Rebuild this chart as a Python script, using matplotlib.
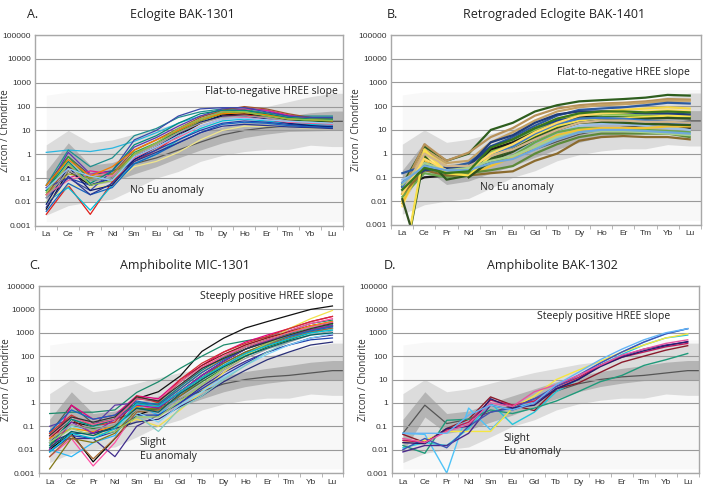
import numpy as np
import matplotlib
matplotlib.use("Agg")
import matplotlib.pyplot as plt
from matplotlib.ticker import FixedLocator, FuncFormatter

plt.rcParams['font.family'] = ['Open Sans', 'DejaVu Sans']

ree = ['La', 'Ce', 'Pr', 'Nd', 'Sm', 'Eu', 'Gd', 'Tb', 'Dy', 'Ho', 'Er', 'Tm', 'Yb', 'Lu']
nan = np.nan

# reference field (grey envelope) shared by all panels
faint_hi = [300, 400, 400, 400, 400, 400, 450, 500, 500, 500, 500, 500, 500, 500]
faint_lo = [0.0015, 0.0015, 0.0015, 0.0015, 0.0015, 0.0015, 0.0015, 0.0015, 0.0015, 0.0015, 0.0015, 0.0015, 0.0015, 0.0015]
outer_hi = [2.5, 10, 3, 4, 7, 12, 20, 30, 45, 60, 100, 160, 260, 360]
outer_lo = [0.0028, 0.007, 0.01, 0.013, 0.035, 0.1, 0.19, 0.5, 0.9, 1.3, 1.6, 1.6, 2.4, 2.1]
inner_hi = [0.2, 3, 0.35, 0.45, 1, 2, 4, 8, 14, 22, 30, 40, 55, 65]
inner_lo = [0.008, 0.25, 0.05, 0.07, 0.15, 0.3, 0.7, 1.5, 3, 5, 7, 9, 9.5, 10]
median = [0.05, 0.8, 0.13, 0.2, 0.4, 0.7, 1.5, 3.2, 6.5, 10, 13, 15, 19, 24]

# A. Eclogite BAK-1301
a_lines = [
    [1.2, 1.5, 1.3, 1.8, 3.5, 8, 20, 40, 60, 55, 45, 35, 35, 35],
    [0.05, 1.5, 0.3, 0.7, 6, 12, 35, 60, 80, 75, 55, 40, 40, 40],
    [0.003, 0.05, 0.003, 0.07, 0.5, 1.5, 6, 20, 40, 45, 35, 25, 22, 20],
    [0.01, 0.04, 0.0045, 0.05, 0.4, 1, 4, 12, 25, 30, 25, 20, 18, 17],
    [0.03, 1.2, 0.15, 0.2, 2, 5, 15, 40, 80, 90, 70, 40, 35, 30],
    [0.04, 0.1, 0.2, 0.15, 1, 3, 10, 30, 60, 80, 70, 45, 30, 28],
    [0.02, 0.3, 0.1, 0.15, 1.5, 4, 12, 35, 70, 100, 80, 50, 35, 30],
    [0.005, 0.2, 0.05, 0.1, 0.8, 2, 6, 20, 45, 50, 40, 28, 25, 22],
    [0.03, 0.8, 0.08, 0.1, 1.2, 3, 9, 25, 50, 60, 45, 30, 25, 25],
    [0.015, 0.1, 0.05, 0.1, 0.6, 1.5, 4, 10, 20, 25, 22, 18, 15, 15],
    [0.01, 0.05, 0.04, 0.05, 0.3, 0.5, 1.2, 4, 10, 15, 15, 14, 12, 12],
    [0.02, 0.15, 0.1, 0.15, 1, 2.5, 8, 25, 55, 70, 50, 35, 30, 28],
    [0.04, 0.1, 0.03, 0.2, 4, 10, 40, 80, 90, 90, 60, 40, 35, 35],
    [0.008, 0.3, 0.03, 0.05, 0.6, 2, 7, 22, 40, 40, 30, 20, 16, 14],
    [0.02, 0.08, 0.15, 0.12, 0.7, 2, 5, 15, 30, 35, 28, 22, 20, 18],
    [0.03, 0.5, 0.06, 0.2, 2.5, 6, 20, 50, 70, 70, 50, 35, 30, 30],
    [0.004, 0.06, 0.02, 0.04, 0.4, 1, 3, 8, 18, 22, 20, 16, 14, 13],
    [0.05, 0.6, 0.12, 0.3, 1.5, 4, 10, 30, 50, 55, 45, 30, 28, 25],
    [0.015, 0.2, 0.08, 0.1, 0.9, 2.5, 8, 20, 35, 40, 35, 25, 22, 20],
    [0.025, 0.4, 0.05, 0.08, 1, 3, 12, 30, 60, 60, 40, 30, 28, 26],
    [0.006, 0.12, 0.02, 0.06, 0.5, 1.2, 3, 8, 15, 18, 16, 14, 13, 12],
    [0.035, 0.25, 0.12, 0.08, 0.8, 2, 6, 15, 30, 32, 28, 24, 22, 20],
]
a_colors = ['#29b6e0', '#1f8f8f', '#e0201b', '#00bcd4', '#5e35b1', '#e91e8c', '#a0522d', '#111111',
            '#2e9e3e', '#1e40af', '#f0e68c', '#9e9d24', '#3949ab', '#0d1b6e', '#f06292', '#00897b',
            '#1565c0', '#f57c00', '#9e9e9e', '#8bc34a', '#283593', '#90caf9']

# B. Retrograded Eclogite BAK-1401
b_lines = [
    [0.05, 2, 0.5, 1, 10, 20, 60, 110, 160, 180, 200, 230, 300, 280],
    [0.03, 2.5, 0.5, 1.1, 5, 12, 40, 80, 110, 130, 140, 160, 200, 190],
    [0.02, 1.5, 0.4, 0.5, 3, 8, 25, 60, 90, 110, 120, 140, 170, 170],
    [0.15, 0.3, 0.25, 0.4, 2, 5, 15, 40, 70, 80, 90, 110, 140, 130],
    [0.01, 1.2, 0.3, 0.3, 1.5, 4, 12, 30, 50, 60, 70, 80, 90, 80],
    [0.006, 0.8, 0.2, 0.25, 1, 3, 8, 20, 35, 45, 50, 60, 70, 60],
    [0.04, 0.5, 0.15, 0.2, 1.2, 3, 10, 25, 40, 45, 45, 40, 40, 35],
    [0.05, 0.2, 0.2, 0.3, 2, 4, 12, 25, 35, 35, 30, 25, 20, 18],
    [0.04, 0.1, 0.12, 0.2, 1.5, 3, 8, 20, 35, 35, 30, 22, 18, 12],
    [0.02, 0.3, 0.2, 0.15, 0.8, 2, 6, 15, 30, 35, 35, 35, 38, 36],
    [0.03, 0.25, 0.15, 0.15, 0.6, 1.5, 5, 12, 25, 28, 25, 20, 18, 16],
    [0.08, 0.2, 0.2, 0.2, 0.5, 1.2, 3, 8, 15, 18, 18, 15, 12, 10],
    [0.015, 0.15, 0.1, 0.15, 0.4, 0.8, 3, 8, 12, 12, 11, 10, 9, 8],
    [0.008, 0.5, 0.15, 0.12, 0.3, 0.7, 2, 6, 10, 12, 12, 12, 14, 14],
    [0.02, 0.2, 0.12, 0.12, 0.15, 0.18, 0.5, 1, 3.5, 5, 5.5, 5, 5, 4],
    [0.03, 0.3, 0.15, 0.15, 0.2, 0.3, 1, 2.5, 5, 7, 7, 7, 7, 5],
    [1e-5, 0.8, 0.08, 0.12, 0.6, 1.5, 5, 12, 20, 22, 20, 18, 17, 16],
    [1e-5, 1.5, 0.15, 0.12, 0.8, 2, 6, 15, 25, 30, 32, 35, 40, 38],
    [0.012, 1e-5, nan, 0.1, 0.5, 1.2, 4, 10, 20, 25, 28, 30, 32, 30],
    [0.06, 0.2, 0.25, 0.3, 3, 6, 20, 45, 60, 60, 55, 50, 50, 45],
    [0.04, 0.4, 0.2, 0.2, 1, 2, 7, 18, 30, 32, 30, 25, 22, 20],
    [0.025, 1, 0.3, 0.3, 0.8, 1.5, 4, 10, 20, 25, 25, 22, 22, 20],
    [0.05, 0.4, 0.2, 0.25, 0.5, 0.8, 2, 5, 8, 9, 9, 8, 7, 6],
    [0.02, 0.6, 0.2, 0.2, 1, 2.5, 8, 20, 40, 50, 55, 60, 65, 60],
    [0.06, 0.3, 0.2, 0.2, 0.4, 0.6, 1.5, 4, 8, 10, 10, 9, 8, 7],
    [0.03, 0.25, 0.15, 0.18, 1.8, 4, 12, 30, 50, 60, 60, 55, 60, 55],
]
b_colors = ['#2e5e1e', '#b8925a', '#c4a265', '#2c5aa0', '#f6d743', '#ffe680', '#8bc34a', '#1a3f8f',
            '#1a1a1a', '#3b7a2a', '#4a7fc1', '#9bbfe6', '#6aa84f', '#f1c232', '#8b6b2e', '#5d8a3a',
            '#2f5a1f', '#f9e04b', '#2f4f1f', '#203c7a', '#3d78c4', '#d2b48c', '#a8d08d', '#ffd966',
            '#6fa8dc', '#38761d']

# C. Amphibolite MIC-1301
c_lines = [
    [0.02, 0.15, 0.1, 0.2, 1.5, 3, 14, 160, 590, 1600, 3000, 5500, 10000, 14000],
    [0.35, 0.4, 0.4, 0.5, 2.8, 8, 30, 100, 300, 450, 650, 1200, 2500, 3500],
    [0.01, 0.05, 0.003, 0.03, 0.3, 0.6, 3, 15, 60, 200, 500, 1000, 2000, 2500],
    [0.01, 0.8, 0.2, 0.3, 2, 1.5, 10, 40, 150, 400, 800, 1500, 3000, 5000],
    [0.005, 0.03, 0.002, 0.02, 0.5, 0.8, 5, 30, 100, 300, 600, 1200, 2500, 4000],
    [0.1, 0.2, 0.1, 0.8, 1, 0.7, 3, 15, 50, 150, 300, 700, 1200, 2000],
    [0.02, 0.03, 0.03, 0.005, 0.1, 0.3, 1, 5, 20, 60, 150, 300, 600, 800],
    [0.01, 0.005, 0.02, 0.04, 0.8, 0.3, 2, 10, 40, 120, 300, 600, 1200, 1800],
    [0.03, 0.1, 0.05, 0.08, 0.2, 0.1, 0.5, 3, 20, 100, 400, 1500, 4000, 9000],
    [0.05, 0.3, 0.1, 0.15, 2, 1, 10, 50, 150, 350, 700, 1500, 3000, 5000],
    [0.03, 0.2, 0.05, 0.1, 1.5, 1.2, 8, 40, 120, 300, 600, 1100, 2000, 3000],
    [0.015, 0.1, 0.08, 0.1, 0.6, 0.5, 2, 8, 30, 100, 250, 500, 1000, 1500],
    [0.008, 0.04, 0.03, 0.06, 0.3, 0.3, 1, 4, 15, 50, 150, 300, 500, 600],
    [0.02, 0.05, 0.05, 0.08, 0.15, 0.2, 0.7, 2, 8, 25, 70, 150, 300, 400],
    [0.02, 0.1, 0.06, 0.1, 0.4, 0.15, 0.8, 3, 12, 40, 120, 300, 600, 900],
    [0.04, 0.2, 0.1, 0.1, 0.3, 0.06, 0.6, 2, 10, 40, 150, 400, 900, 1500],
    [0.03, 0.08, 0.06, 0.1, 0.7, 0.8, 4, 20, 80, 250, 500, 1000, 2000, 3000],
    [0.0015, 0.03, 0.02, 0.05, 0.5, 0.6, 3, 12, 50, 150, 350, 700, 1300, 2000],
    [0.005, 0.04, 0.004, 0.03, 0.4, 0.5, 2, 10, 40, 130, 300, 600, 1100, 1600],
    [0.015, 0.2, 0.1, 0.2, 1, 0.9, 5, 25, 90, 250, 500, 900, 1600, 2200],
    [0.01, 0.15, 0.05, 0.2, 0.8, 0.6, 3, 15, 60, 200, 450, 800, 1400, 2000],
    [0.025, 0.12, 0.07, 0.12, 0.5, 0.4, 1.5, 6, 25, 80, 200, 400, 800, 1200],
    [0.06, 0.5, 0.2, 0.3, 1.2, 0.8, 4, 20, 70, 200, 400, 700, 1200, 1800],
    [0.02, 0.08, 0.04, 0.06, 0.25, 0.25, 1.2, 6, 30, 120, 350, 800, 1600, 2500],
    [0.035, 0.25, 0.12, 0.2, 1.5, 1.3, 8, 35, 100, 250, 500, 1000, 1800, 2800],
    [0.012, 0.06, 0.04, 0.1, 0.6, 0.4, 2.5, 10, 35, 100, 220, 450, 800, 1000],
    [0.008, 0.05, 0.03, 0.08, 0.9, 0.7, 3, 12, 40, 130, 280, 550, 1000, 1300],
    [0.04, 0.25, 0.15, 0.25, 1.8, 1.2, 6, 30, 80, 200, 400, 800, 1500, 2500],
]
c_colors = ['#111111', '#1b8a6b', '#000000', '#e6007e', '#ff4fa3', '#5b3ea6', '#3f2c8c', '#29b6f6',
            '#f2e14c', '#d32f2f', '#8b1a1a', '#2e7d32', '#1e40af', '#2a2f7a', '#81d4fa', '#80cbc4',
            '#ff8f00', '#827717', '#a1662f', '#00897b', '#8e24aa', '#9e9e9e', '#1565c0', '#9ccc65',
            '#f06292', '#006064', '#00bcd4', '#333333']

# D. Amphibolite BAK-1302
d_lines = [
    [0.05, 0.045, 0.001, 0.6, 0.07, 0.6, 1, 5, 15, 50, 150, 400, 900, 1500],
    [0.012, 0.02, 0.015, 0.08, 1.0, 0.12, 0.4, 3, 10, 40, 120, 300, 600, 800],
    [0.045, 0.02, 0.08, 0.2, 1.8, 0.8, 0.47, 4, 7, 20, 55, 100, 180, 280],
    [0.015, 0.007, 0.18, 0.2, 0.5, 0.35, 0.6, 1.2, 3, 8, 15, 40, 70, 130],
    [0.02, 0.025, 0.06, 0.06, 0.06, 0.6, 2, 10, 25, 60, 150, 300, 600, 900],
    [0.008, 0.015, 0.015, 0.05, 0.8, 0.5, 1, 4, 10, 40, 100, 200, 300, 400],
    [0.025, 0.02, 0.07, 0.15, 1.3, 0.8, 1.2, 5, 12, 40, 90, 150, 250, 350],
    [0.01, 0.03, 0.012, 0.1, 0.4, 0.6, 1.5, 5, 15, 50, 150, 400, 900, 1500],
    [0.02, 0.018, 0.08, 0.1, 1.5, 0.6, 0.8, 4, 10, 35, 90, 170, 280, 420],
    [0.03, 0.02, 0.06, 0.12, 1.0, 0.7, 3, 6, 15, 40, 110, 200, 350, 500],
    [0.05, 0.05, 0.05, 0.3, 0.8, 0.5, 1, 6, 20, 70, 200, 500, 1000, 1500],
]
d_colors = ['#4fc3f7', '#26c6da', '#8b1a2b', '#1f9a7a', '#f5e642', '#4b2a8c', '#c2185b', '#3f51b5',
            '#2b1b6e', '#e754a0', '#64b5f6']

panels = [
    ('A.', 'Eclogite BAK-1301', a_lines, a_colors, 0.9,
     [('Flat-to-negative HREE slope', 7.2, 450), ('No Eu anomaly', 3.8, 0.03)]),
    ('B.', 'Retrograded Eclogite BAK-1401', b_lines, b_colors, 1.6,
     [('Flat-to-negative HREE slope', 7.0, 2700), ('No Eu anomaly', 3.5, 0.036)]),
    ('C.', 'Amphibolite MIC-1301', c_lines, c_colors, 0.9,
     [('Steeply positive HREE slope', 6.9, 34000), ('Slight\nEu anomaly', 4.15, 0.01)]),
    ('D.', 'Amphibolite BAK-1302', d_lines, d_colors, 1.0,
     [('Steeply positive HREE slope', 6.1, 4800), ('Slight\nEu anomaly', 4.6, 0.016)]),
]
rects = [
    [0.050, 0.543, 0.437, 0.386],
    [0.555, 0.545, 0.439, 0.384],
    [0.055, 0.0425, 0.432, 0.3785],
    [0.556, 0.0425, 0.435, 0.3785],
]
ylabel_x = [-0.078, -0.094, -0.089, -0.075]
letter_x = [0.038, 0.549, 0.042, 0.545]
title_x = [0.258, 0.786, 0.262, 0.783]

fig = plt.figure(figsize=(7.05, 4.94), dpi=100)
x = np.arange(len(ree))
xe = np.append(x, x[-1] + 0.5)

for i, (letter, title, lines, colors, lw, notes) in enumerate(panels):
    ax = fig.add_axes(rects[i])
    ax.set_yscale('log')
    ax.set_ylim(0.001, 100000)
    ax.set_xlim(-0.5, 13.5)

    ext = lambda v: np.append(v, v[-1])
    ax.fill_between(xe, ext(faint_lo), ext(faint_hi), color='#f8f8f8', lw=0, zorder=0.1)
    ax.fill_between(xe, ext(outer_lo), ext(outer_hi), color='#dcdcdc', lw=0, zorder=0.2)
    ax.fill_between(xe, ext(inner_lo), ext(inner_hi), color='#b4b4b4', lw=0, zorder=0.3)
    ax.plot(xe, ext(median), color='#555555', lw=0.9, zorder=0.4)

    for vals, col in zip(lines, colors):
        ax.plot(x, vals, color=col, lw=lw, zorder=2)

    ax.yaxis.set_major_locator(FixedLocator([10.0 ** k for k in range(-3, 6)]))
    ax.yaxis.set_minor_locator(FixedLocator([]))
    ax.yaxis.set_major_formatter(FuncFormatter(lambda v, p: '%g' % v))
    ax.set_xticks(x)
    ax.set_xticklabels(ree)
    ax.set_xticks(np.arange(-0.5, 14, 1), minor=True)
    ax.tick_params(axis='both', which='major', length=0, labelsize=6, colors='#333333', pad=4)
    ax.tick_params(axis='y', pad=3)
    ax.tick_params(axis='x', which='minor', length=3, color='#aaaaaa')
    for lab in ax.get_xticklabels() + ax.get_yticklabels():
        lab.set_family(['Liberation Sans', 'DejaVu Sans'])
    ax.grid(True, axis='y', color='#9a9a9a', lw=0.8)
    ax.set_axisbelow(True)
    for s in ax.spines.values():
        s.set_color('#a8a8a8')
        s.set_linewidth(1.0)
    ax.set_ylabel('Zircon / Chondrite', fontsize=7, color='#333333')
    ax.yaxis.set_label_coords(ylabel_x[i], 0.5)

    for txt, tx, ty in notes:
        ax.text(tx, ty, txt, fontsize=7.5, color='#222222', ha='left', va='center',
                zorder=5, linespacing=1.3)

    top = rects[i][1] + rects[i][3]
    fig.text(letter_x[i], top + 0.042, letter, fontsize=9, color='#222222', va='center')
    fig.text(title_x[i], top + 0.042, title, fontsize=9, color='#222222', ha='center', va='center')

fig.savefig('out.png', dpi=100)
